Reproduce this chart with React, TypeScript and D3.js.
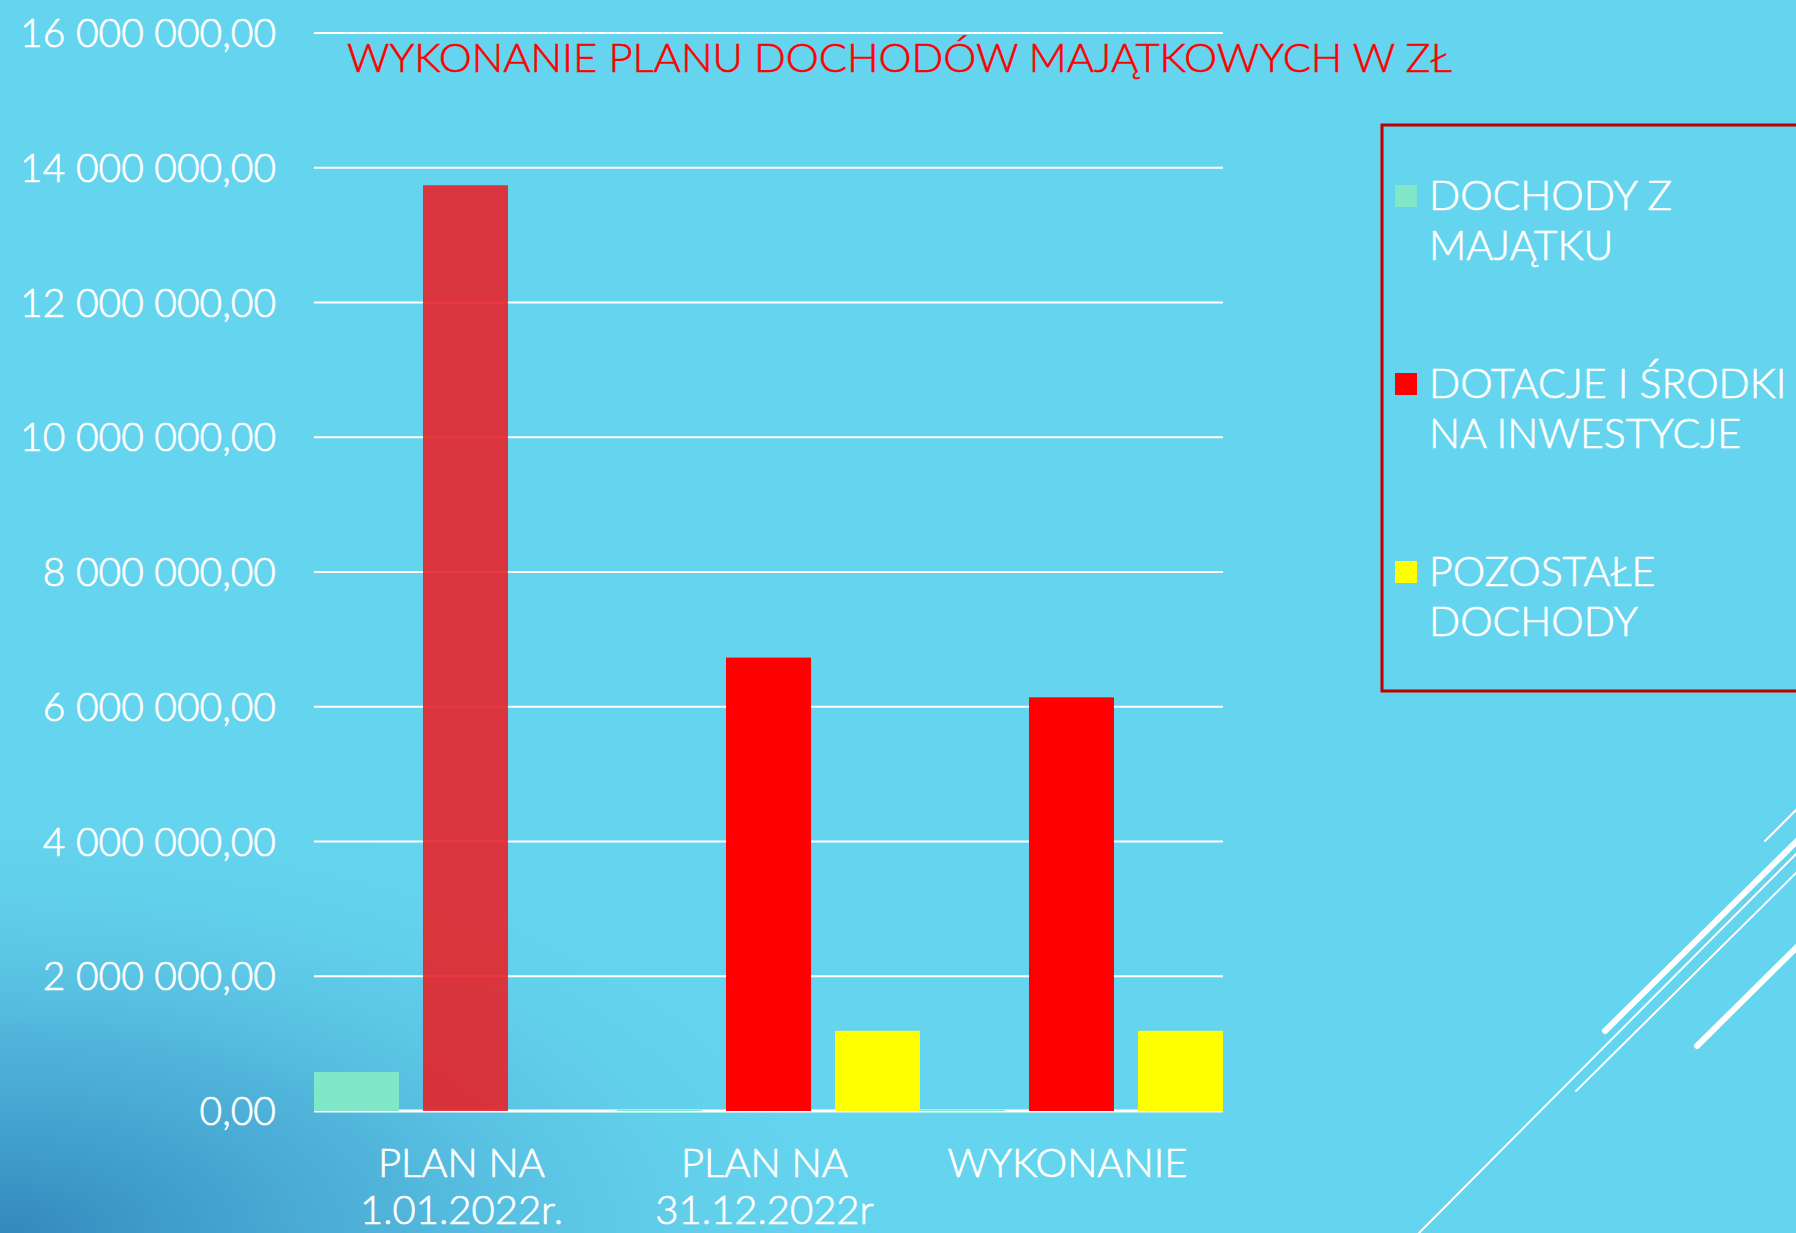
import * as d3 from "d3";

const categories = ["PLAN NA|1.01.2022r.", "PLAN NA|31.12.2022r", "WYKONANIE"];
const seriesNames = ["DOCHODY Z|MAJĄTKU", "DOTACJE I ŚRODKI|NA INWESTYCJE", "POZOSTAŁE|DOCHODY"];
const seriesColors = ["#80E8C8", "#FF0000", "#FFFF00"];
const dochodyZMajatku = [580000, 15000, 15000];
const dotacje = [13740000, 6730000, 6140000];
const pozostale = [0, 1190000, 1190000];
const yTicks = [0, 2000000, 4000000, 6000000, 8000000, 10000000, 12000000, 14000000, 16000000];
const title = "WYKONANIE PLANU DOCHODÓW MAJĄTKOWYCH W ZŁ";

const W = 1796;
const H = 1233;
const FONT = "Lato, 'Open Sans', sans-serif";
const plot = { left: 314, right: 1223, top: 33, bottom: 1111 };

const plFormat = d3
  .formatLocale({ decimal: ",", thousands: " ", grouping: [3], currency: ["", ""] })
  .format(",.2f");

export default function App() {
  const series = [dochodyZMajatku, dotacje, pozostale];

  const x0 = d3.scaleBand().domain(categories).range([plot.left, plot.right]).padding(0);
  const x1 = d3
    .scaleBand()
    .domain(seriesNames)
    .range([0, x0.bandwidth()])
    .paddingInner(0.22)
    .paddingOuter(0);
  const y = d3.scaleLinear().domain([0, 16000000]).range([plot.bottom, plot.top]);

  // first red bar is a bit darker/translucent in the original
  const barFill = (si: number, ci: number) =>
    si === 1 && ci === 0 ? "rgb(230,36,42)" : seriesColors[si];

  return (
    <svg
      width={W}
      height={H}
      style={{ position: "absolute", left: 0, top: 0, display: "block" }}
      fontFamily={FONT}
      fontWeight={300}
    >
      <defs>
        <radialGradient
          id="bl-shade"
          gradientUnits="userSpaceOnUse"
          cx={0}
          cy={H}
          r={1}
          gradientTransform={`translate(0,${H}) scale(900,440) translate(0,${-H})`}
        >
          <stop offset="0%" stopColor="#3288BC" stopOpacity={1} />
          <stop offset="45%" stopColor="#4AAAD4" stopOpacity={0.75} />
          <stop offset="100%" stopColor="#65D4EE" stopOpacity={0} />
        </radialGradient>
      </defs>
      <rect x={0} y={0} width={W} height={H} fill="#65D4EE" />
      <rect x={0} y={0} width={W} height={H} fill="url(#bl-shade)" />

      {/* decorative slide lines */}
      <g stroke="#FFFFFF" strokeLinecap="round">
        <line x1={1765} y1={841} x2={1800} y2={806} strokeWidth={2} />
        <line x1={1605} y1={1031} x2={1800} y2={838} strokeWidth={6} />
        <line x1={1417} y1={1235} x2={1800} y2={850} strokeWidth={2} />
        <line x1={1576} y1={1091} x2={1800} y2={869} strokeWidth={2} />
        <line x1={1697} y1={1046} x2={1800} y2={944} strokeWidth={6} />
      </g>

      {/* gridlines */}
      <g>
        {yTicks.map((t) => (
          <line
            key={t}
            x1={plot.left}
            x2={plot.right}
            y1={y(t)}
            y2={y(t)}
            stroke="#FFFFFF"
            strokeWidth={t === 0 ? 3 : 2}
          />
        ))}
      </g>

      {/* y tick labels */}
      <g fill="#FFFFFF" stroke="#FFFFFF" strokeWidth={0.7} fontSize={39} textAnchor="end">
        {yTicks.map((t) => (
          <text key={t} x={276} y={y(t) + 14}>
            {plFormat(t)}
          </text>
        ))}
      </g>

      {/* bars */}
      <g>
        {categories.map((c, ci) => (
          <g key={c} transform={`translate(${x0(c)},0)`}>
            {series.map((vals, si) => (
              <rect
                key={si}
                x={x1(seriesNames[si])}
                y={y(vals[ci])}
                width={x1.bandwidth()}
                height={y(0) - y(vals[ci])}
                fill={barFill(si, ci)}
                opacity={si === 1 && ci === 0 ? 0.9 : 1}
              />
            ))}
          </g>
        ))}
      </g>

      {/* category labels */}
      <g fill="#FFFFFF" stroke="#FFFFFF" strokeWidth={0.7} fontSize={40} textAnchor="middle">
        {categories.map((c) =>
          c.split("|").map((line, li) => (
            <text key={c + li} x={(x0(c) ?? 0) + x0.bandwidth() / 2 - 4} y={1177 + li * 47}>
              {line}
            </text>
          ))
        )}
      </g>

      {/* title */}
      <text
        x={347}
        y={72}
        fill="#FF0000"
        stroke="#FF0000"
        strokeWidth={0.6}
        fontSize={40}
        textLength={1105}
        lengthAdjust="spacingAndGlyphs"
      >
        {title}
      </text>

      {/* legend */}
      <rect x={1382} y={125} width={430} height={566} fill="none" stroke="#C00000" strokeWidth={3} />
      <g fill="#FFFFFF" fontSize={41}>
        {seriesNames.map((name, i) => {
          const base = 210 + i * 188;
          return (
            <g key={name}>
              <rect x={1395} y={base - 25} width={22} height={22} fill={seriesColors[i]} />
              {name.split("|").map((line, li) => (
                <text key={li} x={1429} y={base + li * 50} stroke="#FFFFFF" strokeWidth={0.7}>
                  {line}
                </text>
              ))}
            </g>
          );
        })}
      </g>
    </svg>
  );
}
